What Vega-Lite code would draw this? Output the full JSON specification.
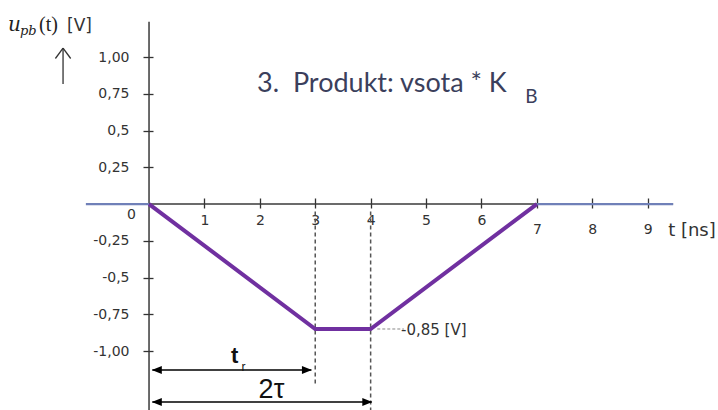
{
  "$schema": "https://vega.github.io/schema/vega-lite/v6.json",
  "width": 718,
  "height": 410,
  "autosize": {"type": "none"},
  "padding": 0,
  "background": "white",
  "config": {"view": {"stroke": null}},
  "layer": [
    {
      "data": {"values": [{"t": 0, "t2": 9.46, "u": 0}]},
      "mark": {"type": "rule", "color": "#3a3a3a", "strokeWidth": 1.5},
      "encoding": {
        "x": {
          "field": "t", "type": "quantitative", "title": null,
          "scale": {"domain": [-2.69, 10.27], "nice": false, "zero": false},
          "axis": {
            "values": [1, 2, 3, 4, 5, 6, 7, 8, 9],
            "offset": -212,
            "domain": false,
            "grid": false,
            "tickSize": 10,
            "tickColor": "#333333",
            "tickWidth": 1.3,
            "labelFont": "DejaVu Sans",
            "labelFontSize": 14,
            "labelColor": "#333333",
            "labelPadding": {"condition": {"test": "datum.value >= 7", "value": 14}, "value": 5},
            "labelFlush": false,
            "labelOverlap": false,
            "format": "d"
          }
        },
        "x2": {"field": "t2"},
        "y": {
          "field": "u", "type": "quantitative", "title": null,
          "scale": {"domain": [-1.401, 1.388], "nice": false, "zero": false},
          "axis": {
            "values": [-1, -0.75, -0.5, -0.25, 0.25, 0.5, 0.75, 1],
            "offset": -153,
            "domain": false,
            "grid": false,
            "tickSize": 10,
            "tickColor": "#333333",
            "tickWidth": 1.3,
            "labelFont": "DejaVu Sans",
            "labelFontSize": 14,
            "labelColor": "#333333",
            "labelPadding": 14,
            "labelOverlap": false,
            "labelExpr": "datum.value == 1 ? '1,00' : datum.value == -1 ? '-1,00' : replace(toString(datum.value), '.', ',')"
          }
        }
      }
    },
    {
      "data": {"values": [{"t": 0, "u": -1.401, "u2": 1.24}]},
      "mark": {"type": "rule", "color": "#3a3a3a", "strokeWidth": 1.5},
      "encoding": {
        "x": {"field": "t", "type": "quantitative", "title": null},
        "y": {"field": "u", "type": "quantitative", "title": null},
        "y2": {"field": "u2"}
      }
    },
    {
      "data": {"values": [{"t": 3, "u": -0.05, "u2": -1.22}, {"t": 4, "u": -0.05, "u2": -1.401}]},
      "mark": {"type": "rule", "color": "#555555", "strokeWidth": 1.5, "strokeDash": [4, 3]},
      "encoding": {
        "x": {"field": "t", "type": "quantitative", "title": null},
        "y": {"field": "u", "type": "quantitative", "title": null},
        "y2": {"field": "u2"}
      }
    },
    {
      "data": {"values": [{"t": 4.12, "t2": 4.6, "u": -0.85}]},
      "mark": {"type": "rule", "color": "#888888", "strokeWidth": 1, "strokeDash": [3, 2]},
      "encoding": {
        "x": {"field": "t", "type": "quantitative", "title": null},
        "x2": {"field": "t2"},
        "y": {"field": "u", "type": "quantitative", "title": null}
      }
    },
    {
      "data": {"values": [{"t": -1.14, "t2": 0, "u": 0}, {"t": 7, "t2": 9.46, "u": 0}]},
      "mark": {"type": "rule", "color": "#7080b8", "strokeWidth": 2.2},
      "encoding": {
        "x": {"field": "t", "type": "quantitative", "title": null},
        "x2": {"field": "t2"},
        "y": {"field": "u", "type": "quantitative", "title": null}
      }
    },
    {
      "data": {"values": [{"t": 0, "u": 0}, {"t": 3, "u": -0.85}, {"t": 4, "u": -0.85}, {"t": 7, "u": 0}]},
      "mark": {"type": "line", "color": "#7030a0", "strokeWidth": 4},
      "encoding": {
        "x": {"field": "t", "type": "quantitative", "title": null},
        "y": {"field": "u", "type": "quantitative", "title": null}
      }
    },
    {
      "data": {"values": [{"t": 0.06, "t2": 2.93, "u": -1.129}, {"t": 0.06, "t2": 4.02, "u": -1.347}]},
      "mark": {"type": "rule", "color": "#000000", "strokeWidth": 1.5},
      "encoding": {
        "x": {"field": "t", "type": "quantitative", "title": null},
        "x2": {"field": "t2"},
        "y": {"field": "u", "type": "quantitative", "title": null}
      }
    },
    {
      "data": {"values": [
        {"t": 0.05, "u": -1.129, "end": "start"},
        {"t": 2.94, "u": -1.129, "end": "end"},
        {"t": 0.05, "u": -1.347, "end": "start"},
        {"t": 4.03, "u": -1.347, "end": "end"}
      ]},
      "mark": {"type": "point", "filled": true, "color": "#000000", "opacity": 1, "size": 400},
      "encoding": {
        "x": {"field": "t", "type": "quantitative", "title": null},
        "y": {"field": "u", "type": "quantitative", "title": null},
        "shape": {
          "field": "end", "type": "nominal", "legend": null,
          "scale": {"domain": ["start", "end"], "range": ["M0,0L1,-0.4L1,0.4Z", "M0,0L-1,-0.4L-1,0.4Z"]}
        }
      }
    },
    {
      "data": {"values": [
        {"t": -1.552, "u": 0.816, "t2": -1.552, "u2": 1.061},
        {"t": -1.69, "u": 0.99, "t2": -1.552, "u2": 1.061},
        {"t": -1.414, "u": 0.99, "t2": -1.552, "u2": 1.061}
      ]},
      "mark": {"type": "rule", "color": "#333333", "strokeWidth": 1.3},
      "encoding": {
        "x": {"field": "t", "type": "quantitative", "title": null},
        "y": {"field": "u", "type": "quantitative", "title": null},
        "x2": {"field": "t2"},
        "y2": {"field": "u2"}
      }
    },
    {
      "data": {"values": [{"t": 1.95, "u": 0.762, "text": "3.\u00a0 Produkt: vsota * K"}]},
      "mark": {"type": "text", "font": "Lato", "fontSize": 27, "color": "#3b3f5c", "align": "left", "baseline": "alphabetic"},
      "encoding": {
        "x": {"field": "t", "type": "quantitative", "title": null},
        "y": {"field": "u", "type": "quantitative", "title": null},
        "text": {"field": "text"}
      }
    },
    {
      "data": {"values": [{"t": 6.79, "u": 0.687, "text": "B"}]},
      "mark": {"type": "text", "font": "Lato", "fontSize": 19, "color": "#3b3f5c", "align": "left", "baseline": "alphabetic"},
      "encoding": {
        "x": {"field": "t", "type": "quantitative", "title": null},
        "y": {"field": "u", "type": "quantitative", "title": null},
        "text": {"field": "text"}
      }
    },
    {
      "data": {"values": [{"t": -2.545, "u": 1.177, "text": "u"}]},
      "mark": {"type": "text", "font": "DejaVu Serif", "fontStyle": "italic", "fontSize": 20, "color": "#222222", "align": "left", "baseline": "alphabetic"},
      "encoding": {
        "x": {"field": "t", "type": "quantitative", "title": null},
        "y": {"field": "u", "type": "quantitative", "title": null},
        "text": {"field": "text"}
      }
    },
    {
      "data": {"values": [{"t": -2.33, "u": 1.15, "text": "pb"}]},
      "mark": {"type": "text", "font": "DejaVu Serif", "fontStyle": "italic", "fontSize": 13, "color": "#222222", "align": "left", "baseline": "alphabetic"},
      "encoding": {
        "x": {"field": "t", "type": "quantitative", "title": null},
        "y": {"field": "u", "type": "quantitative", "title": null},
        "text": {"field": "text"}
      }
    },
    {
      "data": {"values": [{"t": -1.986, "u": 1.177, "text": "(t)"}]},
      "mark": {"type": "text", "font": "Liberation Serif", "fontSize": 20, "color": "#222222", "align": "left", "baseline": "alphabetic"},
      "encoding": {
        "x": {"field": "t", "type": "quantitative", "title": null},
        "y": {"field": "u", "type": "quantitative", "title": null},
        "text": {"field": "text"}
      }
    },
    {
      "data": {"values": [{"t": -1.48, "u": 1.177, "text": "[V]"}]},
      "mark": {"type": "text", "font": "DejaVu Sans", "fontSize": 17, "color": "#333333", "align": "left", "baseline": "alphabetic"},
      "encoding": {
        "x": {"field": "t", "type": "quantitative", "title": null},
        "y": {"field": "u", "type": "quantitative", "title": null},
        "text": {"field": "text"}
      }
    },
    {
      "data": {"values": [{"t": -0.316, "u": -0.075, "text": "0"}]},
      "mark": {"type": "text", "font": "DejaVu Sans", "fontSize": 14, "color": "#333333", "align": "center", "baseline": "middle"},
      "encoding": {
        "x": {"field": "t", "type": "quantitative", "title": null},
        "y": {"field": "u", "type": "quantitative", "title": null},
        "text": {"field": "text"}
      }
    },
    {
      "data": {"values": [{"t": 4.62, "u": -0.854, "text": "-0,85 [V]"}]},
      "mark": {"type": "text", "font": "DejaVu Sans", "fontSize": 15, "color": "#333333", "align": "left", "baseline": "middle", "dx": -4},
      "encoding": {
        "x": {"field": "t", "type": "quantitative", "title": null},
        "y": {"field": "u", "type": "quantitative", "title": null},
        "text": {"field": "text"}
      }
    },
    {
      "data": {"values": [{"t": 9.37, "u": -0.184, "text": "t [ns]"}]},
      "mark": {"type": "text", "font": "DejaVu Sans", "fontSize": 18, "color": "#333333", "align": "left", "baseline": "middle"},
      "encoding": {
        "x": {"field": "t", "type": "quantitative", "title": null},
        "y": {"field": "u", "type": "quantitative", "title": null},
        "text": {"field": "text"}
      }
    },
    {
      "data": {"values": [{"t": 1.48, "u": -1.082, "text": "t"}]},
      "mark": {"type": "text", "font": "Liberation Sans", "fontWeight": "bold", "fontSize": 22, "color": "#111111", "align": "left", "baseline": "alphabetic"},
      "encoding": {
        "x": {"field": "t", "type": "quantitative", "title": null},
        "y": {"field": "u", "type": "quantitative", "title": null},
        "text": {"field": "text"}
      }
    },
    {
      "data": {"values": [{"t": 1.67, "u": -1.136, "text": "r"}]},
      "mark": {"type": "text", "font": "Liberation Sans", "fontSize": 12, "color": "#111111", "align": "left", "baseline": "alphabetic"},
      "encoding": {
        "x": {"field": "t", "type": "quantitative", "title": null},
        "y": {"field": "u", "type": "quantitative", "title": null},
        "text": {"field": "text"}
      }
    },
    {
      "data": {"values": [{"t": 2.21, "u": -1.32, "text": "2τ"}]},
      "mark": {"type": "text", "font": "Liberation Sans", "fontSize": 27, "color": "#111111", "align": "center", "baseline": "alphabetic"},
      "encoding": {
        "x": {"field": "t", "type": "quantitative", "title": null},
        "y": {"field": "u", "type": "quantitative", "title": null},
        "text": {"field": "text"}
      }
    }
  ]
}
